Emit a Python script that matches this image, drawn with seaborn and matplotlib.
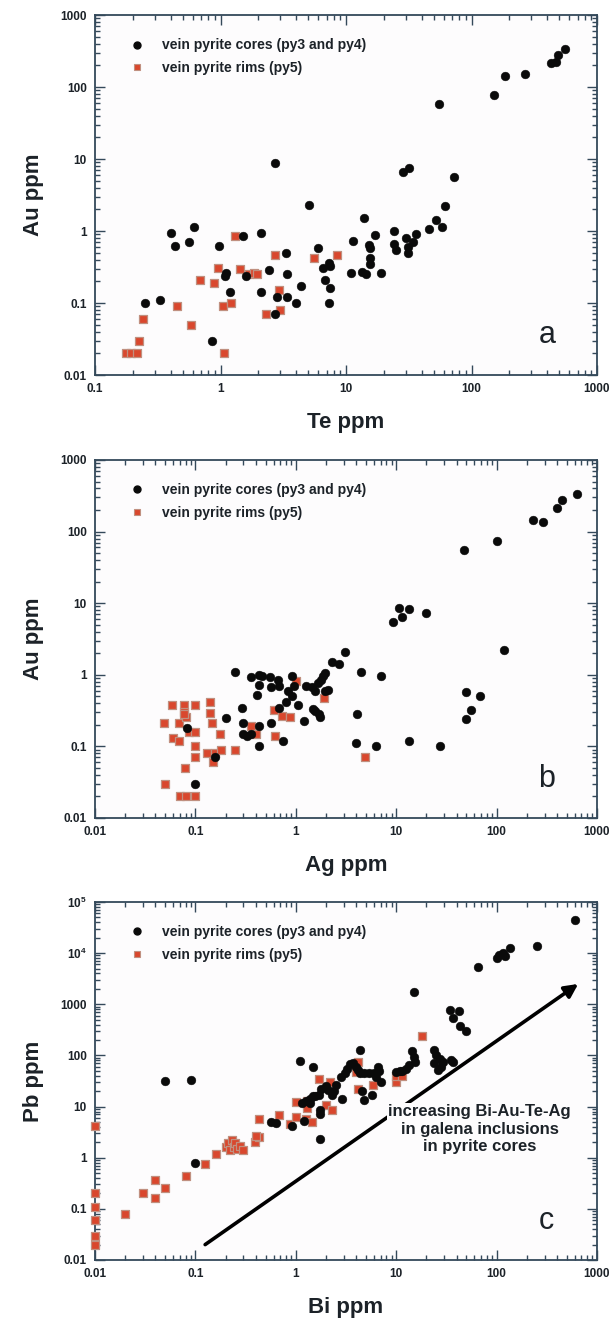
import matplotlib
matplotlib.use("Agg")
import numpy as np
import pandas as pd
import seaborn as sns
import matplotlib.pyplot as plt
from matplotlib.ticker import LogLocator, FuncFormatter, NullFormatter
from matplotlib.lines import Line2D

# ---------------- data ----------------
# panel a: Te vs Au
te_cores = [430, 470, 490, 560, 185, 265, 150, 55, 2.7, 28.5, 32, 73, 5.1, 62, 14, 52,
            46, 58, 0.61, 0.4, 0.43, 0.56, 1.5, 2.1, 0.98, 11.3, 15.3, 15.5, 17, 24, 24, 25,
            30, 31, 31, 34, 36, 6.0, 6.5, 7.3, 7.4, 6.8, 7.5, 7.3, 11, 13.3, 14.5, 15.5,
            15.5, 19, 2.45, 3.3, 3.4, 1.08, 1.1, 1.6, 1.2, 2.1, 2.8, 3.4, 4.0, 4.4, 2.7, 0.25,
            0.33, 0.86]
au_cores_a = [215, 225, 280, 340, 140, 150, 78, 58, 8.7, 6.5, 7.6, 5.7, 2.3, 2.2, 1.5, 1.4,
              1.05, 1.15, 1.15, 0.95, 0.62, 0.71, 0.85, 0.95, 0.62, 0.72, 0.63, 0.58, 0.88, 1.0, 0.65, 0.55,
              0.8, 0.6, 0.5, 0.7, 0.9, 0.58, 0.31, 0.36, 0.33, 0.21, 0.16, 0.1, 0.26, 0.27, 0.25, 0.35,
              0.42, 0.26, 0.29, 0.5, 0.25, 0.24, 0.26, 0.24, 0.14, 0.14, 0.12, 0.12, 0.1, 0.17, 0.07, 0.1,
              0.11, 0.03]
te_rims = [0.175, 0.195, 0.215, 0.225, 0.24, 0.45, 0.58, 0.69, 0.88, 0.95, 1.04, 1.07,
           1.22, 1.3, 1.43, 1.7, 1.85, 1.95, 2.3, 2.7, 2.9, 3.0, 5.6, 8.5]
au_rims_a = [0.02, 0.02, 0.02, 0.03, 0.06, 0.09, 0.05, 0.21, 0.19, 0.31, 0.09, 0.02,
             0.1, 0.85, 0.3, 0.25, 0.26, 0.25, 0.07, 0.47, 0.15, 0.08, 0.42, 0.47]

# panel b: Ag vs Au
ag_cores = [630, 450, 400, 290, 230, 100, 47, 9.3, 10.7, 11.4, 13.4, 20, 118,
            50, 68, 55, 50, 27, 13.5, 6.3, 4.0, 4.1, 4.5, 7.1, 3.1, 2.3, 2.7,
            0.25, 0.36, 0.43, 0.46, 0.43, 0.55, 0.56, 0.66, 0.68, 0.92, 0.95, 0.92, 0.84, 0.8,
            0.68, 0.57, 0.74, 1.05, 1.2, 1.26, 1.45, 1.55, 1.65, 1.8, 1.85, 1.94, 1.97, 2.1,
            1.5, 1.55, 1.7, 1.75, 0.29, 0.3, 0.3, 0.33, 0.36, 0.43, 0.43, 0.41, 0.2, 0.082,
            0.155, 0.1]
au_cores_b = [335, 280, 215, 135, 145, 75, 55, 5.5, 8.6, 6.5, 8.3, 7.2, 2.2,
              0.58, 0.5, 0.32, 0.24, 0.1, 0.12, 0.1, 0.11, 0.28, 1.1, 0.96, 2.1, 1.5, 1.4,
              1.1, 0.93, 1.0, 0.95, 0.72, 0.92, 0.68, 0.85, 0.7, 0.97, 0.7, 0.5, 0.6, 0.42,
              0.34, 0.21, 0.12, 0.38, 0.23, 0.7, 0.67, 0.6, 0.78, 0.85, 0.95, 1.05, 0.6, 0.62,
              0.33, 0.31, 0.28, 0.26, 0.34, 0.21, 0.15, 0.14, 0.15, 0.19, 0.1, 0.52, 0.25, 0.18,
              0.07, 0.03]
ag_rims = [0.05, 0.07, 0.08, 0.1, 0.079, 0.049, 0.059, 0.06, 0.068, 0.069, 0.077, 0.077,
           0.08, 0.1, 0.077, 0.087, 0.1, 0.1, 0.1, 0.14, 0.14, 0.145, 0.13, 0.155, 0.15,
           0.175, 0.18, 0.25, 0.36, 0.4, 0.6, 0.62, 0.73, 0.87, 1.0, 1.9, 4.9]
au_rims_b = [0.03, 0.02, 0.02, 0.02, 0.05, 0.21, 0.38, 0.13, 0.12, 0.21, 0.38, 0.3,
             0.26, 0.38, 0.28, 0.16, 0.16, 0.1, 0.072, 0.42, 0.29, 0.21, 0.08, 0.08, 0.06,
             0.15, 0.09, 0.09, 0.19, 0.15, 0.32, 0.14, 0.27, 0.26, 0.82, 0.47, 0.07]

# panel c: Bi vs Pb
bi_cores = [610, 250, 135, 115, 105, 100, 120, 65, 15, 34, 42, 37, 43, 50, 35, 37,
            24, 25, 27, 29, 28, 26, 24, 14.5, 15, 15.5, 13.5, 12.5, 11.5, 10.8, 10,
            6.6, 6.8, 6.3, 7, 6, 5.3, 4.8, 4.4, 4.2, 4.4, 3.7, 4.0, 5.7, 4.8, 4.6,
            3.1, 2.8, 2.5, 2.4, 2.9, 2.3, 2.1, 2.0, 1.8, 1.7, 1.55, 1.5, 1.37, 1.4,
            1.75, 1.75, 1.25, 1.15, 1.1, 1.5, 1.75, 1.2, 0.92, 0.57, 0.63, 0.1, 0.05,
            0.09, 3.2, 3.5]
pb_cores = [45000, 14000, 12500, 10000, 9000, 8000, 8800, 5300, 1750, 780, 730, 540, 380, 300, 80, 75,
            125, 100, 85, 75, 60, 52, 70, 120, 95, 75, 65, 55, 50, 50, 48,
            60, 50, 38, 30, 45, 45, 45, 45, 52, 125, 72, 60, 17, 13.5, 20,
            45, 38, 27, 20, 14, 17, 21, 25, 22, 17, 16, 16, 14, 12,
            8.5, 7, 13, 12, 78, 60, 2.3, 5.3, 4.2, 5.0, 4.8, 0.8, 31,
            33, 55, 68]
bi_rims = [0.01, 0.01, 0.01, 0.01, 0.01, 0.01, 0.02, 0.03, 0.04, 0.04, 0.05, 0.08, 0.125,
           0.16, 0.2, 0.21, 0.22, 0.23, 0.24, 0.25, 0.26, 0.28, 0.3, 0.39, 0.43, 0.4, 0.43,
           0.68, 0.88, 1.0, 1.0, 1.28, 1.3, 1.25, 1.45, 1.7, 2.2, 2.0, 2.3, 4.2, 4.0, 4.2,
           5.9, 10, 10, 11.3, 18]
pb_rims = [4.2, 0.2, 0.11, 0.06, 0.03, 0.02, 0.08, 0.2, 0.37, 0.16, 0.26, 0.43, 0.75,
           1.2, 1.6, 1.9, 1.4, 2.2, 1.6, 1.9, 1.5, 1.7, 1.4, 2.0, 2.5, 2.6, 5.8,
           6.8, 4.6, 6.3, 12.5, 9.5, 13, 5.6, 5.1, 35, 30, 10.5, 8.4, 75, 47, 22,
           27, 30, 40, 40, 240]

legend_labels = ["vein pyrite cores (py3 and py4)", "vein pyrite rims (py5)"]
annotation = "increasing Bi-Au-Te-Ag\nin galena inclusions\nin pyrite cores"

# ---------------- style ----------------
sns.set_theme(style="ticks")
plt.rcParams["font.family"] = ["Liberation Sans", "DejaVu Sans"]
plt.rcParams["font.weight"] = "bold"
plt.rcParams["axes.labelweight"] = "bold"
plt.rcParams["mathtext.fontset"] = "custom"
plt.rcParams["mathtext.rm"] = "Liberation Sans:bold"
plt.rcParams["mathtext.it"] = "Liberation Sans:bold"
plt.rcParams["mathtext.bf"] = "Liberation Sans:bold"

SPINE = "#34495a"
TEXT = "#1c2228"
CORE = "#0a0a0a"
RIM_FACE = "#d9472d"
RIM_EDGE = "#c09080"
AX_BG = "#fdfcfd"


def fmt(v, pos):
    if v <= 0:
        return ""
    e = int(round(np.log10(v)))
    if e <= -2:
        return "0.01"
    if e == -1:
        return "0.1"
    if e <= 3:
        return str(int(round(10 ** e)))
    return r"$10^{%d}$" % e


fig = plt.figure(figsize=(6.14, 13.25), dpi=100)
fig.patch.set_facecolor("white")
L, W = 95 / 614, 502 / 614
ax_a = fig.add_axes([L, 1 - 375 / 1325, W, 360 / 1325])
ax_b = fig.add_axes([L, 1 - 818 / 1325, W, 358 / 1325])
ax_c = fig.add_axes([L, 1 - 1260 / 1325, W, 358 / 1325])


def draw(ax, xc, yc, xr, yr):
    dc = pd.DataFrame({"x": xc, "y": yc})
    dr = pd.DataFrame({"x": xr, "y": yr})
    sns.scatterplot(data=dr, x="x", y="y", ax=ax, marker="s", s=32,
                    color=RIM_FACE, edgecolor=RIM_EDGE, linewidth=0.9,
                    clip_on=False, zorder=3, legend=False)
    sns.scatterplot(data=dc, x="x", y="y", ax=ax, marker="o", s=40,
                    color=CORE, edgecolor=CORE, linewidth=0.3,
                    clip_on=False, zorder=4, legend=False)


def style(ax, xlim, ylim, xlabel, ylabel, letter):
    ax.set_facecolor(AX_BG)
    ax.set_xscale("log")
    ax.set_yscale("log")
    ax.set_xlim(*xlim)
    ax.set_ylim(*ylim)
    for a in (ax.xaxis, ax.yaxis):
        a.set_major_locator(LogLocator(base=10, numticks=20))
        a.set_minor_locator(LogLocator(base=10, subs=np.arange(2, 10), numticks=200))
        a.set_major_formatter(FuncFormatter(fmt))
        a.set_minor_formatter(NullFormatter())
    ax.tick_params(which="both", direction="in", top=True, right=True,
                   color=SPINE, width=1.0, labelcolor=TEXT, labelsize=8.5)
    ax.tick_params(which="major", length=7)
    ax.tick_params(which="minor", length=3.5)
    ax.tick_params(axis="x", pad=6)
    ax.tick_params(axis="y", pad=6)
    for sp in ax.spines.values():
        sp.set_color(SPINE)
        sp.set_linewidth(1.3)
    ax.set_xlabel(xlabel, fontsize=16, fontweight="bold", color=TEXT, labelpad=12)
    ax.set_ylabel(ylabel, fontsize=16, fontweight="bold", color=TEXT, labelpad=12)
    ax.text(0.90, 0.11, letter, transform=ax.transAxes, fontsize=22,
            fontweight="normal", color=TEXT, ha="center", va="center")
    handles = [
        Line2D([], [], ls="", marker="o", markersize=5, color=CORE),
        Line2D([], [], ls="", marker="s", markersize=5, markerfacecolor=RIM_FACE,
               markeredgecolor=RIM_EDGE, markeredgewidth=0.8),
    ]
    leg = ax.legend(handles, legend_labels, loc="upper left",
                    bbox_to_anchor=(0.07, 0.935), frameon=False, borderpad=0,
                    borderaxespad=0, handlelength=1.0, handletextpad=1.3,
                    labelspacing=0.6, prop={"size": 10, "weight": "bold"})
    for t in leg.get_texts():
        t.set_color(TEXT)


draw(ax_a, te_cores, au_cores_a, te_rims, au_rims_a)
style(ax_a, (0.1, 1000), (0.01, 1000), "Te ppm", "Au ppm", "a")

draw(ax_b, ag_cores, au_cores_b, ag_rims, au_rims_b)
style(ax_b, (0.01, 1000), (0.01, 1000), "Ag ppm", "Au ppm", "b")

draw(ax_c, bi_cores, pb_cores, bi_rims, pb_rims)
style(ax_c, (0.01, 1000), (0.01, 1e5), "Bi ppm", "Pb ppm", "c")

ax_c.annotate("", xy=(650, 2500), xytext=(0.125, 0.02),
              arrowprops=dict(arrowstyle="-|>", lw=2.6, color="black",
                              mutation_scale=20, shrinkA=0, shrinkB=0),
              zorder=2)
ax_c.text(68, 3.6, annotation, ha="center", va="center", fontsize=12,
          fontweight="bold", color=TEXT, linespacing=1.2, zorder=5,
          bbox=dict(facecolor=AX_BG, edgecolor="none", pad=1.0))

fig.savefig("out.png", dpi=100, facecolor="white")
